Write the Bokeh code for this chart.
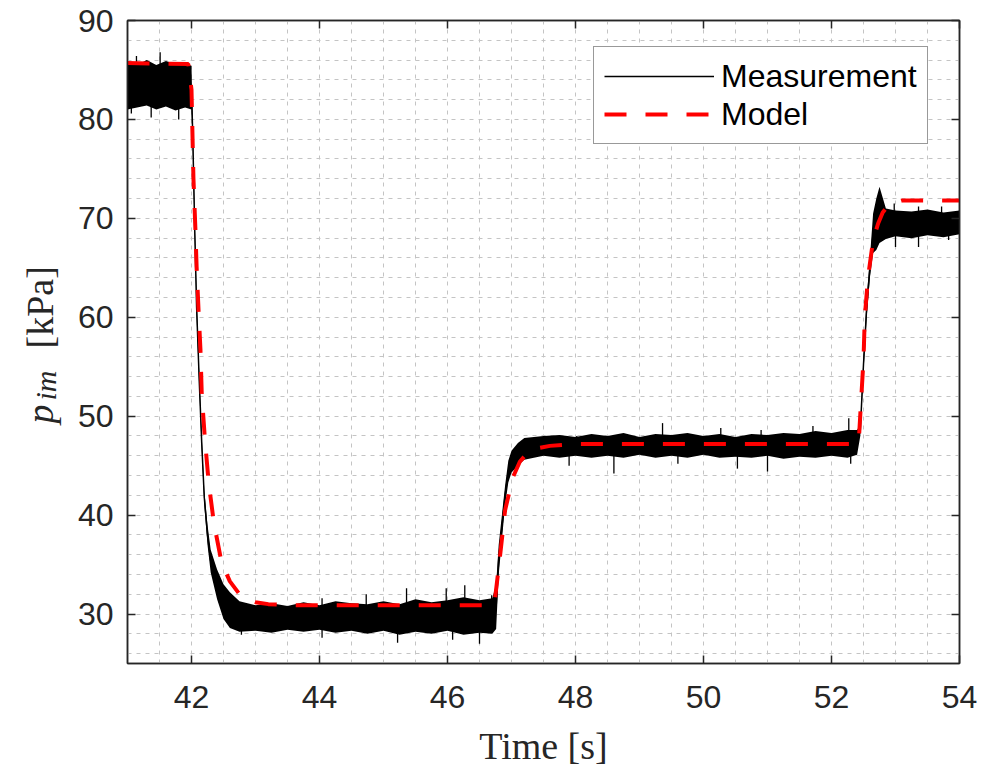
import numpy as np
from bokeh.plotting import figure
from bokeh.layouts import row
from bokeh.models import (Range1d, FixedTicker, SingleIntervalTicker, LinearAxis,
                          Legend, LegendItem, ColumnDataSource)
from bokeh.core.properties import value
from bokeh.embed import file_html
from bokeh.resources import INLINE

# ---- data ----
x_ticks = [42, 44, 46, 48, 50, 52, 54]
y_ticks = [30, 40, 50, 60, 70, 80, 90]

# Measurement: noisy signal, given as its lower / upper envelope
meas_t = [41.00, 41.15, 41.30, 41.45, 41.60, 41.75, 41.90, 42.00, 42.02, 42.05,
          42.08, 42.12, 42.16, 42.20, 42.25, 42.30, 42.40, 42.50, 42.60, 42.75,
          43.00, 43.25, 43.50, 43.75, 44.00, 44.25, 44.50, 44.75, 45.00, 45.25,
          45.50, 45.75, 46.00, 46.25, 46.50, 46.70, 46.76, 46.80, 46.85, 46.90,
          46.95, 47.00, 47.10, 47.20, 47.35, 47.50, 47.75, 48.00, 48.25, 48.50,
          48.75, 49.00, 49.25, 49.50, 49.75, 50.00, 50.25, 50.50, 50.75,
          51.00, 51.25, 51.50, 51.75, 52.00, 52.25, 52.40, 52.45, 52.50, 52.55,
          52.60, 52.65, 52.70, 52.75, 52.85, 53.00, 53.25, 53.50, 53.75, 54.00]
meas_lo = [81.0, 81.2, 81.4, 81.0, 81.3, 80.9, 81.2, 81.0, 77.0, 68.0,
           60.0, 53.0, 46.5, 41.0, 37.0, 34.2, 31.5, 29.5, 28.6, 28.2,
           28.3, 28.1, 28.4, 28.2, 28.4, 28.1, 28.3, 28.0, 28.3, 27.9,
           28.2, 28.0, 28.3, 27.9, 28.1, 28.0, 28.5, 34.0, 37.5, 41.0,
           43.3, 44.3, 45.0, 45.6, 45.8, 46.0, 45.8, 46.0, 45.8, 46.0,
           45.8, 46.1, 45.8, 46.0, 45.8, 46.1, 45.8, 45.9, 45.8,
           46.0, 45.7, 45.9, 45.8, 46.0, 45.8, 46.1, 48.0, 54.5, 60.0,
           64.0, 66.5, 66.8, 67.5, 67.9, 68.2, 68.0, 68.3, 68.1, 68.4]
meas_hi = [85.8, 85.5, 86.0, 85.5, 85.9, 85.6, 85.8, 85.4, 79.5, 70.0,
           62.0, 54.5, 48.0, 42.5, 39.0, 36.5, 34.5, 33.0, 32.2, 31.3,
           30.9, 31.1, 30.8, 31.2, 30.9, 31.3, 31.1, 31.0, 31.3, 31.0,
           31.5, 31.2, 31.4, 31.7, 31.4, 31.6, 33.0, 37.0, 40.0, 43.0,
           45.5, 46.5, 47.3, 47.8, 47.9, 48.0, 48.1, 47.9, 48.2, 48.0,
           48.3, 47.9, 48.2, 48.1, 48.3, 48.0, 48.2, 47.9, 48.2,
           48.1, 48.3, 48.2, 48.5, 48.3, 48.6, 48.6, 49.2, 56.0, 62.0,
           66.0, 70.5, 72.0, 73.2, 71.0, 70.8, 70.7, 70.9, 70.6, 70.8]

# Visible individual noise spikes of the measurement (time, low end, high end)
spike_t = [41.06, 41.14, 41.37, 41.51, 41.80,
           42.78, 44.04, 44.73, 45.22, 45.36, 45.98, 46.08, 46.27, 46.50, 46.69,
           47.90, 48.02, 48.60, 49.36, 49.60, 50.27, 50.53, 50.90, 51.00, 51.71,
           52.27, 52.30,
           52.98, 53.00, 53.36, 53.72, 53.83]
spike_lo = [80.6, 82.0, 80.2, 82.5, 80.0,
            27.9, 27.6, 28.5, 27.1, 29.0, 28.8, 27.4, 29.0, 27.0, 28.5,
            45.0, 46.5, 44.2, 46.5, 45.2, 46.5, 44.7, 46.5, 44.4, 46.5,
            46.5, 45.2,
            69.0, 67.1, 67.1, 69.0, 67.8]
spike_hi = [84.0, 86.4, 84.0, 86.8, 84.0,
            30.5, 31.6, 32.0, 30.0, 32.6, 32.6, 30.0, 32.9, 30.0, 31.9,
            47.0, 48.0, 47.0, 49.3, 47.0, 48.8, 47.0, 48.6, 47.0, 49.0,
            49.8, 47.0,
            71.5, 69.5, 71.2, 71.2, 69.5]

# Model
model_t = [41.0, 41.95, 42.0, 42.03, 42.06, 42.08, 42.11, 42.14, 42.16, 42.21,
           42.27, 42.35, 42.47, 42.6, 42.74, 42.87, 43.0, 43.2, 43.5, 46.7,
           46.74, 46.82, 46.9, 47.02, 47.13, 47.25, 47.44, 47.6, 48.0, 52.4,
           52.43, 52.46, 52.5, 52.52, 52.57, 52.65, 52.73, 52.8, 52.9, 53.1, 54.0]
model_y = [85.7, 85.6, 83.0, 74.1, 69.1, 65.1, 60.7, 56.7, 52.3, 47.6,
           43.2, 39.2, 35.2, 33.3, 32.1, 31.5, 31.2, 31.0, 30.9, 30.9,
           31.4, 35.8, 40.5, 43.8, 45.4, 46.3, 46.8, 47.0, 47.2, 47.2,
           47.9, 51.3, 55.7, 60.0, 64.0, 67.8, 69.5, 70.6, 71.4, 71.8, 71.8]

# y-axis label pieces
ylabel_parts = ["p", "im", "[kPa]"]

meas_mid = (np.array(meas_lo) + np.array(meas_hi)) / 2.0

TXT = "#262626"
LAB_W = 70
W, H = 984, 772
TOP, BOTTOM = 20, 109

# ---------- narrow panel that carries the y-axis label ----------
# its frame is aligned with the main frame; coordinates = pixels from canvas bottom-left
lab = figure(width=LAB_W, height=H, x_range=Range1d(0, LAB_W), y_range=Range1d(BOTTOM, H - TOP),
             output_backend="svg", toolbar_location=None,
             min_border_left=0, min_border_right=0, min_border_top=TOP,
             min_border_bottom=BOTTOM)
lab.axis.visible = False
lab.grid.visible = False
lab.outline_line_color = None
lab.background_fill_color = "white"
lab.border_fill_color = "white"
lab.text(x=[39], y=[349], text=[ylabel_parts[0]], angle=np.pi / 2,
         text_font=value("Liberation Serif"), text_font_size="38px",
         text_font_style="italic", text_color=TXT,
         text_align="left", text_baseline="alphabetic")
lab.text(x=[45], y=[372], text=[ylabel_parts[1]], angle=np.pi / 2,
         text_font=value("Liberation Serif"), text_font_size="30px",
         text_font_style="italic", text_color=TXT,
         text_align="left", text_baseline="alphabetic")
lab.text(x=[39], y=[424], text=[ylabel_parts[2]], angle=np.pi / 2,
         text_font=value("Liberation Serif"), text_font_size="38px",
         text_color=TXT, text_align="left", text_baseline="alphabetic")

# ---------- main chart ----------
p = figure(width=W - LAB_W, height=H, x_range=Range1d(41, 54), y_range=Range1d(25, 90),
           output_backend="svg", toolbar_location=None,
           min_border_left=127 - LAB_W, min_border_right=25, min_border_top=TOP,
           min_border_bottom=BOTTOM)
p.background_fill_color = "white"
p.border_fill_color = "white"
p.outline_line_color = TXT
p.outline_line_width = 1.5

# grid
p.xgrid.ticker = SingleIntervalTicker(interval=0.5)
p.ygrid.ticker = SingleIntervalTicker(interval=2)
for g in (p.xgrid[0], p.ygrid[0]):
    g.grid_line_color = "#c4c4c4"
    g.grid_line_dash = "4 5"
    g.grid_line_width = 1

# axes
for ax, ticks in ((p.xaxis[0], x_ticks), (p.yaxis[0], y_ticks)):
    ax.ticker = FixedTicker(ticks=ticks)
    ax.major_tick_in = 8
    ax.major_tick_out = 0
    ax.minor_tick_in = 0
    ax.minor_tick_out = 0
    ax.axis_line_color = TXT
    ax.axis_line_width = 1.5
    ax.major_tick_line_color = TXT
    ax.major_tick_line_width = 1.5
    ax.major_label_text_font = "Liberation Sans"
    ax.major_label_text_font_size = "32px"
    ax.major_label_text_color = TXT

p.xaxis[0].major_label_standoff = 22
p.yaxis[0].major_label_standoff = 14
p.xaxis[0].axis_label = "Time [s]"
p.xaxis[0].axis_label_text_font = "Liberation Serif"
p.xaxis[0].axis_label_text_font_size = "38px"
p.xaxis[0].axis_label_text_font_style = "normal"
p.xaxis[0].axis_label_text_color = TXT
p.xaxis[0].axis_label_standoff = 14

# mirrored ticks on top and right (no labels)
for side, ticks in (("above", x_ticks), ("right", y_ticks)):
    ax2 = LinearAxis(ticker=FixedTicker(ticks=ticks), major_tick_in=8, major_tick_out=0,
                     minor_tick_in=0, minor_tick_out=0, axis_line_color=TXT,
                     axis_line_width=1.5, major_tick_line_color=TXT, major_tick_line_width=1.5,
                     major_label_text_color=None, major_label_text_font_size="8px",
                     major_label_standoff=0)
    p.add_layout(ax2, side)

# data
src = ColumnDataSource(dict(t=meas_t, lo=meas_lo, hi=meas_hi, mid=meas_mid))
p.varea(x="t", y1="lo", y2="hi", source=src, fill_color="black", fill_alpha=1.0)
p.segment(x0=spike_t, y0=spike_lo, x1=spike_t, y1=spike_hi, line_color="black", line_width=1.3)
meas_line = p.line(x="t", y="mid", source=src, line_color="black", line_width=1.5)
model_line = p.line(x=model_t, y=model_y, line_color="#ff0000", line_width=4,
                    line_dash="22 19")

legend = Legend(items=[LegendItem(label="Measurement", renderers=[meas_line]),
                       LegendItem(label="Model", renderers=[model_line])],
                location=(466, 519), margin=0, padding=10, spacing=0,
                glyph_width=110, glyph_height=38, label_height=38, label_standoff=7,
                label_text_font="Liberation Sans", label_text_font_size="32px",
                label_text_color="black", border_line_color="#333333",
                border_line_width=1.5, background_fill_color="white",
                background_fill_alpha=1.0)
p.add_layout(legend)

layout = row(lab, p, spacing=0)
open("out.html", "w").write(file_html(layout, INLINE))
